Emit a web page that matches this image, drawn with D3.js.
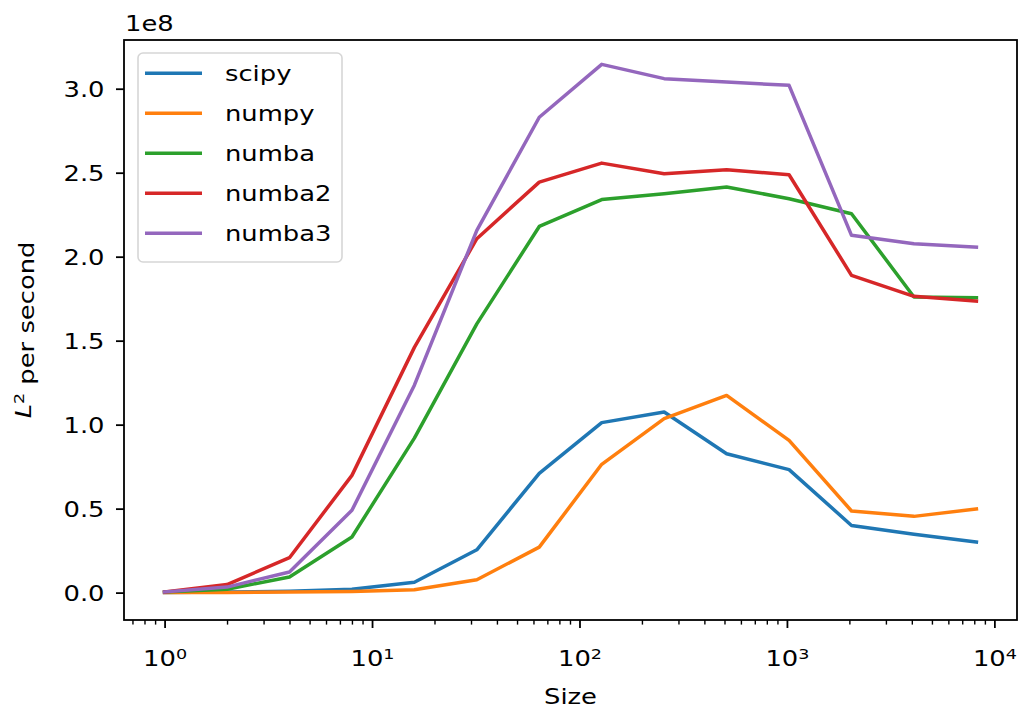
<!DOCTYPE html>
<html><head><meta charset="utf-8">
<script src="https://cdn.jsdelivr.net/npm/d3@7"></script>
<style>
body{margin:0;background:#fff}
svg{display:block}
text{font-family:"DejaVu Sans",sans-serif;fill:#000}
</style>
</head><body>
<svg id="c" width="1019" height="711"></svg>
<script>
// ---- data (values in units of 1e8 "L^2 per second") ----
const sizes  = [1, 2, 4, 8, 16, 32, 64, 128, 256, 512, 1024, 2048, 4096, 8192];
const scipy  = [0.001, 0.003, 0.008, 0.020, 0.062, 0.255, 0.710, 1.012, 1.075, 0.827, 0.732, 0.400, 0.347, 0.301];
const numpy  = [0.0005, 0.001, 0.003, 0.007, 0.017, 0.077, 0.271, 0.764, 1.036, 1.174, 0.906, 0.486, 0.454, 0.498];
const numba  = [0.004, 0.020, 0.093, 0.331, 0.920, 1.600, 2.180, 2.340, 2.375, 2.415, 2.345, 2.256, 1.760, 1.756];
const numba2 = [0.004, 0.048, 0.208, 0.698, 1.460, 2.107, 2.444, 2.557, 2.494, 2.518, 2.488, 1.889, 1.764, 1.736];
const numba3 = [0.004, 0.033, 0.123, 0.490, 1.235, 2.157, 2.830, 3.145, 3.060, 3.040, 3.020, 2.127, 2.077, 2.057];
const seriesNames = ["scipy", "numpy", "numba", "numba2", "numba3"];
const seriesValues = [scipy, numpy, numba, numba2, numba3];
const colors = ["#1f77b4", "#ff7f0e", "#2ca02c", "#d62728", "#9467bd"];
const yTicks = [0, 0.5, 1.0, 1.5, 2.0, 2.5, 3.0];
const xTicks = [1, 10, 100, 1000, 10000];
const xTickExps = ["0", "1", "2", "3", "4"];
const offsetLabel = "1e8";
const xLabel = "Size";

// ---- layout ----
const L = 124, R = 1017, T = 40, B = 620;
const FS = 21.5;      // font size
const SX = 1.2;       // horizontal widening of glyphs (hinted, upscaled look)
const svg = d3.select("#c");

function label(parent, x, y, anchor, rot) {
  const g = parent.append("g")
    .attr("transform", `translate(${x},${y})` + (rot ? ` rotate(${rot})` : "") + ` scale(${SX},1)`);
  return g.append("text").attr("text-anchor", anchor).attr("font-size", FS);
}

const lmin = Math.log10(d3.min(sizes)), lmax = Math.log10(d3.max(sizes));
const pad = (lmax - lmin) * 0.05;
const x = d3.scaleLog().domain([10 ** (lmin - pad), 10 ** (lmax + pad)]).range([L, R]);
const y = d3.scaleLinear().domain([-0.163, 3.29]).range([B, T]);

// lines
const line = d3.line().x((d, i) => x(sizes[i])).y(d => y(d));
const plot = svg.append("g");
seriesValues.forEach((vals, k) => {
  plot.append("path").datum(vals)
    .attr("d", line)
    .attr("fill", "none")
    .attr("stroke", colors[k])
    .attr("stroke-width", 3.5)
    .attr("stroke-linejoin", "round")
    .attr("stroke-linecap", "square");
});

// y axis
const yAxis = svg.append("g").attr("transform", `translate(${L},0)`)
  .call(d3.axisLeft(y).tickValues(yTicks).tickFormat("").tickSize(8));
yAxis.select(".domain").remove();
yAxis.selectAll(".tick line").attr("stroke", "#000").attr("stroke-width", 1.8);
yAxis.selectAll(".tick text").remove();
yAxis.selectAll(".tick").each(function (d) {
  label(d3.select(this), -19.5, 0, "end").attr("dy", "0.36em").text(d3.format(".1f")(d));
});

// x axis major
const xAxis = svg.append("g").attr("transform", `translate(0,${B})`)
  .call(d3.axisBottom(x).tickValues(xTicks).tickFormat("").tickSize(8));
xAxis.select(".domain").remove();
xAxis.selectAll(".tick line").attr("stroke", "#000").attr("stroke-width", 1.8);
xAxis.selectAll(".tick text").remove();
xAxis.selectAll(".tick").each(function (d, i) {
  const t = label(d3.select(this), 0, 46, "middle");
  t.append("tspan").text("10");
  t.append("tspan").attr("dy", "-0.45em").attr("font-size", FS * 0.68).text(xTickExps[i]);
});

// x axis minor
const [d0, d1] = x.domain();
const minor = [];
for (let k = Math.floor(Math.log10(d0)); k <= Math.ceil(Math.log10(d1)); k++) {
  for (let m = 2; m <= 9; m++) {
    const v = m * 10 ** k;
    if (v >= d0 && v <= d1) minor.push(v);
  }
}
const xMinor = svg.append("g").attr("transform", `translate(0,${B})`)
  .call(d3.axisBottom(x).tickValues(minor).tickFormat("").tickSize(4.6));
xMinor.select(".domain").remove();
xMinor.selectAll(".tick line").attr("stroke", "#000").attr("stroke-width", 1.4);

// frame
svg.append("rect").attr("x", L).attr("y", T).attr("width", R - L).attr("height", B - T)
  .attr("fill", "none").attr("stroke", "#000").attr("stroke-width", 1.8);

// offset text
label(svg, L + 1, 31, "start").text(offsetLabel);

// axis labels
label(svg, (L + R) / 2, 704, "middle").text(xLabel);
const yl = label(svg, 30.5, (T + B) / 2, "middle", -90);
yl.append("tspan").attr("font-style", "italic").text("L");
yl.append("tspan").attr("dy", "-0.45em").attr("font-size", FS * 0.68).text("2");
yl.append("tspan").attr("dy", "0.45em").text(" per second");

// legend
const lg = svg.append("g").attr("transform", "translate(138,53)");
lg.append("rect").attr("width", 204).attr("height", 209).attr("rx", 5)
  .attr("fill", "#fff").attr("fill-opacity", 0.8)
  .attr("stroke", "#d6d6d6").attr("stroke-width", 1.6);
seriesNames.forEach((name, k) => {
  const yy = 20.3 + 40 * k;
  lg.append("line").attr("x1", 7).attr("x2", 64).attr("y1", yy).attr("y2", yy)
    .attr("stroke", colors[k]).attr("stroke-width", 3.5);
  label(lg, 87, yy, "start").attr("dy", "0.36em").text(name);
});
</script>
</body></html>
